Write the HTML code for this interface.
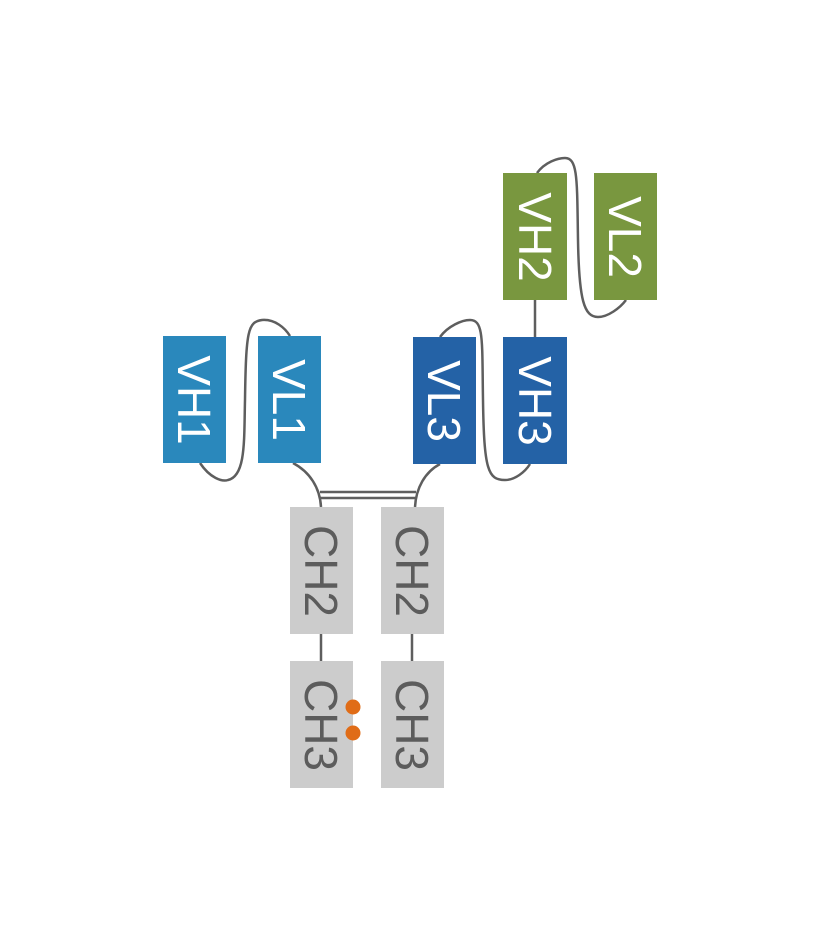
<!DOCTYPE html>
<html><head><style>
html,body{margin:0;padding:0;background:#fff;}
svg{display:block}
text{font-family:"Liberation Sans",sans-serif;font-size:46px;}
</style></head><body>
<svg width="820" height="946" viewBox="0 0 820 946" xmlns="http://www.w3.org/2000/svg">
<g fill="none" stroke="#5e5e5e" stroke-width="2.5">
<path d="M200,463 C210,478 222,482 228,480 C246,476 244,440 245,400 C246,330 248,322 262,320 C275,319 285,328 290,336"/>
<path d="M293,463 C310,472 320,488 321,507"/>
<path d="M440,464 C425,472 416,488 415,507"/>
<line x1="320" y1="492" x2="416" y2="492"/>
<line x1="320" y1="498" x2="416" y2="498"/>
<path d="M440,337 C448,326 462,320 470,320 C484,320 482,340 483,400 C484,470 488,480 505,480 C515,480 525,472 530,464"/>
<line x1="535" y1="300" x2="535" y2="337"/>
<path d="M537,173 C545,162 558,158 565,158 C578,158 577,180 578,240 C579,300 584,317 598,317 C608,317 620,308 626,300"/>
<line x1="321" y1="634" x2="321" y2="661"/>
<line x1="412" y1="634" x2="412" y2="661"/>
</g>
<rect x="163" y="336" width="63" height="127" fill="#2a88bc"/>
<rect x="258" y="336" width="63" height="127" fill="#2a88bc"/>
<rect x="413" y="337" width="63" height="127" fill="#2462a6"/>
<rect x="503" y="337" width="64" height="127" fill="#2462a6"/>
<rect x="503" y="173" width="64" height="127" fill="#79973f"/>
<rect x="594" y="173" width="63" height="127" fill="#79973f"/>
<rect x="290" y="507" width="63" height="127" fill="#cccccc"/>
<rect x="381" y="507" width="63" height="127" fill="#cccccc"/>
<rect x="290" y="661" width="63" height="127" fill="#cccccc"/>
<rect x="381" y="661" width="63" height="127" fill="#cccccc"/>
<g fill="#fff" text-anchor="middle">
<text transform="translate(178,400) rotate(90)">VH1</text>
<text transform="translate(273,400) rotate(90)">VL1</text>
<text transform="translate(428,401) rotate(90)">VL3</text>
<text transform="translate(519,401) rotate(90)">VH3</text>
<text transform="translate(519,237) rotate(90)">VH2</text>
<text transform="translate(609,237) rotate(90)">VL2</text>
</g>
<g fill="#5c5c5c" text-anchor="middle">
<text transform="translate(305,571) rotate(90)">CH2</text>
<text transform="translate(396,571) rotate(90)">CH2</text>
<text transform="translate(305,725) rotate(90)">CH3</text>
<text transform="translate(396,725) rotate(90)">CH3</text>
</g>
<circle cx="353" cy="707" r="7.5" fill="#e06c17"/>
<circle cx="353" cy="733" r="7.5" fill="#e06c17"/>
</svg>
</body></html>
